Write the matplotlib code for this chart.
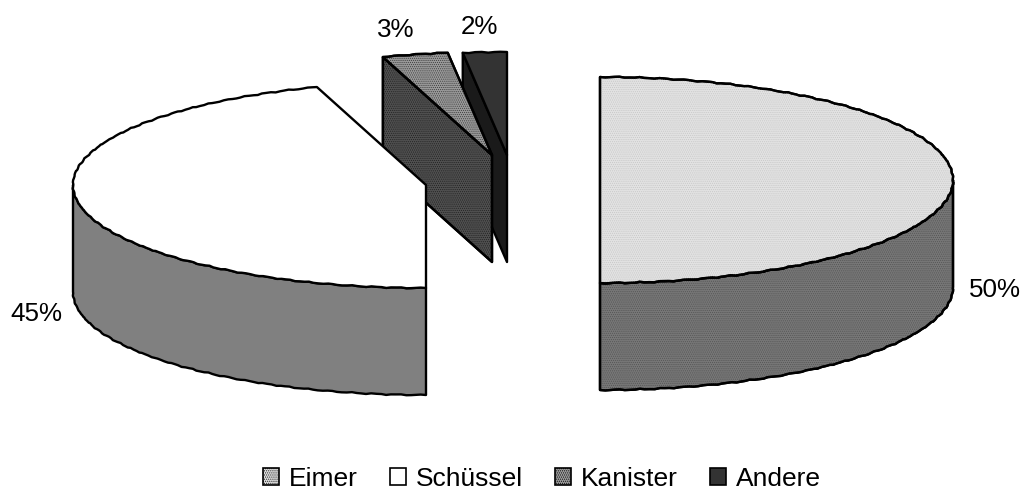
# plot.py
# Exploded 3D-style pie of container shares, drawn from polygons
import matplotlib
matplotlib.use("Agg")
import matplotlib.pyplot as plt
import numpy as np
from matplotlib.patches import Patch, Polygon

plt.rcParams['font.family'] = ['Liberation Sans', 'DejaVu Sans']
plt.rcParams['hatch.linewidth'] = 0.5

categories = ["Eimer", "Schüssel", "Kanister", "Andere"]
shares = [50, 45, 3, 2]
share_labels = ["50%", "45%", "3%", "2%"]

top_colors = ["#e2e2e2", "#ffffff", "#9a9a9a", "#333333"]
side_colors = ["#777777", "#808080", "#505050", "#1a1a1a"]
top_hatch = ["#c8c8c8", None, "#3c3c3c", None]
side_hatch = ["#555555", None, "#222222", None]

RX, RY, DEPTH = 353, 103, 107
centers = [(600, 180), (426, 185), (492, 155), (507, 155)]
label_pos = [(995, 290), (36, 314), (396, 30), (479, 27)]


def ring(cx, cy, a0, a1, dy=0):
    # clockwise from 12 o'clock, with a small ripple so the rim reads as a rough plotter line
    n = max(2, int((a1 - a0) / 0.8))
    d = np.linspace(a0, a1, n)
    t = np.radians(d)
    x = cx + RX * np.sin(t) + 0.35 * np.sin(np.radians(d * 83))
    y = cy - RY * np.cos(t) + 0.4 * np.sin(np.radians(d * 97)) + 0.2 * np.sin(np.radians(d * 211)) + dy
    x[[0, -1]] = cx + RX * np.sin(t[[0, -1]])
    y[[0, -1]] = cy - RY * np.cos(t[[0, -1]]) + dy
    return np.column_stack([x, y])


def add_shape(ax, pts, fill, dots, z):
    edge = dict(edgecolor="black", linewidth=1.7, joinstyle="round")
    ax.add_patch(Polygon(pts, closed=True, facecolor=fill, zorder=z, **edge))
    if dots:
        ax.add_patch(Polygon(pts, closed=True, facecolor="none", edgecolor=dots,
                             hatch="........", linewidth=0, zorder=z + 0.1))
        ax.add_patch(Polygon(pts, closed=True, fill=False, zorder=z + 0.2, **edge))


def draw_slice(ax, i, a0, a1, z):
    cx, cy = centers[i]
    arc = ring(cx, cy, a0, a1)
    apex = np.array([cx, cy])

    # radial face on the left edge of the narrow slices
    if a0 > 270:
        face = np.array([arc[0], apex, apex + [0, DEPTH], arc[0] + [0, DEPTH]])
        add_shape(ax, face, side_colors[i], side_hatch[i], z)

    # outer wall, only where the rim faces the viewer
    lo, hi = max(a0, 90), min(a1, 270)
    if hi > lo:
        rim = ring(cx, cy, lo, hi)
        wall = np.vstack([rim, rim[::-1] + [0, DEPTH]])
        add_shape(ax, wall, side_colors[i], side_hatch[i], z)

    add_shape(ax, np.vstack([arc, apex]), top_colors[i], top_hatch[i], z + 0.5)


def main():
    fig = plt.figure(figsize=(10.24, 4.92), dpi=100)
    ax = fig.add_axes([0, 0, 1, 1])
    ax.set_xlim(0, 1024)
    ax.set_ylim(492, 0)
    ax.axis("off")

    stops = np.concatenate([[0], np.cumsum(shares)]) * 3.6
    order = [3, 2, 1, 0]
    for z, i in enumerate(order):
        draw_slice(ax, i, stops[i], stops[i + 1], z * 2 + 1)

    for i, txt in enumerate(share_labels):
        ax.text(label_pos[i][0], label_pos[i][1], txt, fontsize=18.7,
                ha="center", va="center", color="black")

    handles = []
    for i, name in enumerate(categories):
        handles.append(Patch(facecolor=top_colors[i], edgecolor="black", linewidth=1.2,
                             hatch="........" if top_hatch[i] else None, label=name))
    ax.legend(handles=handles, loc="center", bbox_to_anchor=(0.529, 0.027), ncol=4,
              frameon=False, fontsize=19, handlelength=0.62, handleheight=0.62,
              handletextpad=0.36, columnspacing=1.22, borderpad=0, borderaxespad=0)

    fig.savefig("out.png", dpi=100)


main()
